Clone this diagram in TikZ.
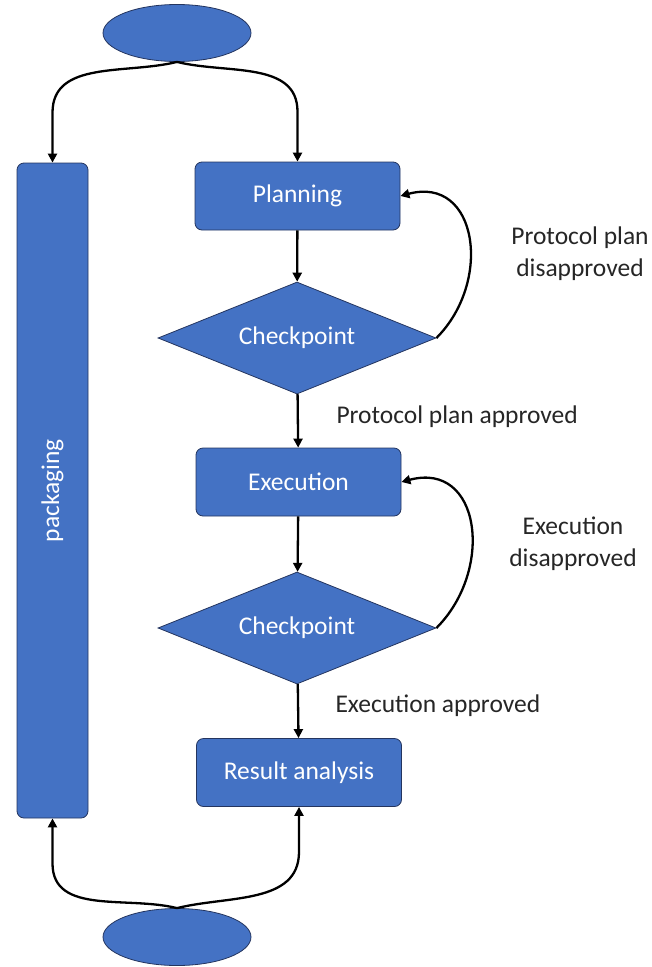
\documentclass[tikz,border=0pt]{standalone}
\usepackage{fontspec}
\setmainfont{Carlito}
\usetikzlibrary{shapes.geometric,arrows.meta,calc}
\definecolor{boxblue}{HTML}{4472C4}
\definecolor{boxline}{HTML}{24355F}

\begin{document}
\begin{tikzpicture}[x=1pt,y=-1pt,
  box/.style={draw=boxline,line width=0.8pt,fill=boxblue,rounded corners=7pt,text=white,
    minimum width=205pt,minimum height=68pt,font=\fontsize{25.5}{30}\selectfont},
  check/.style={diamond,draw=boxline,line width=0.8pt,fill=boxblue,text=white,aspect=2.48,
    minimum width=278pt,minimum height=112pt,inner sep=0pt,font=\fontsize{25.5}{30}\selectfont},
  term/.style={ellipse,draw=boxline,line width=0.8pt,fill=boxblue,minimum width=148pt,minimum height=57pt},
  arr/.style={-{Triangle[length=9pt,width=9pt]},line width=2.3pt},
  lbl/.style={font=\fontsize{25.5}{32}\selectfont,text=black!85,align=center}]
\useasboundingbox (0,0) rectangle (652,967);

\node[term] (start) at (177,33) {};
\node[term] (stop) at (177,937) {};
\node[box,minimum width=71pt,minimum height=655pt] (pack) at (52.5,490.5) {};
\node[rotate=90,text=white,font=\fontsize{25.5}{30}\selectfont] (packtext) at (pack.center) {packaging};

\node[box] (plan) at (297.5,196) {Planning};
\node[check] (chk1) at (297,338) {Checkpoint};
\node[box] (exec) at (298.5,482) {Execution};
\node[check] (chk2) at (297,628) {Checkpoint};
\node[box] (result) at (299,772.5) {Result analysis};

% split and merge curves
\draw[arr] (start.south) to[out=194,in=90] ($(pack.north)+(0,-50)$) -- (pack.north);
\draw[arr] (start.south) to[out=-14,in=90] ($(plan.north)+(0,-50)$) -- (plan.north);
\draw[arr] (stop.north) to[out=166,in=-90] ($(pack.south)+(0,45)$) -- (pack.south);
\draw[arr] (stop.north) to[out=14,in=-90] ($(result.south)+(0,45)$) -- (result.south);

% main line
\draw[arr] (plan) -- (chk1);
\draw[arr] (chk1) -- (exec);
\draw[arr] (exec) -- (chk2);
\draw[arr] (chk2) -- (result);

% loops back
\draw[arr] (chk1.east) to[out=45,in=15,looseness=1.4] (plan.east);
\draw[arr] (chk2.east) to[out=45,in=15,looseness=1.4] (exec.east);

\node[lbl] (nogo1) at (580,254) {Protocol plan\\disapproved};
\node[lbl,anchor=west] (go1) at (333,417) {Protocol plan approved};
\node[lbl] (nogo2) at (573,544) {Execution\\disapproved};
\node[lbl,anchor=west] (go2) at (332,706) {Execution approved};
\end{tikzpicture}
\end{document}
